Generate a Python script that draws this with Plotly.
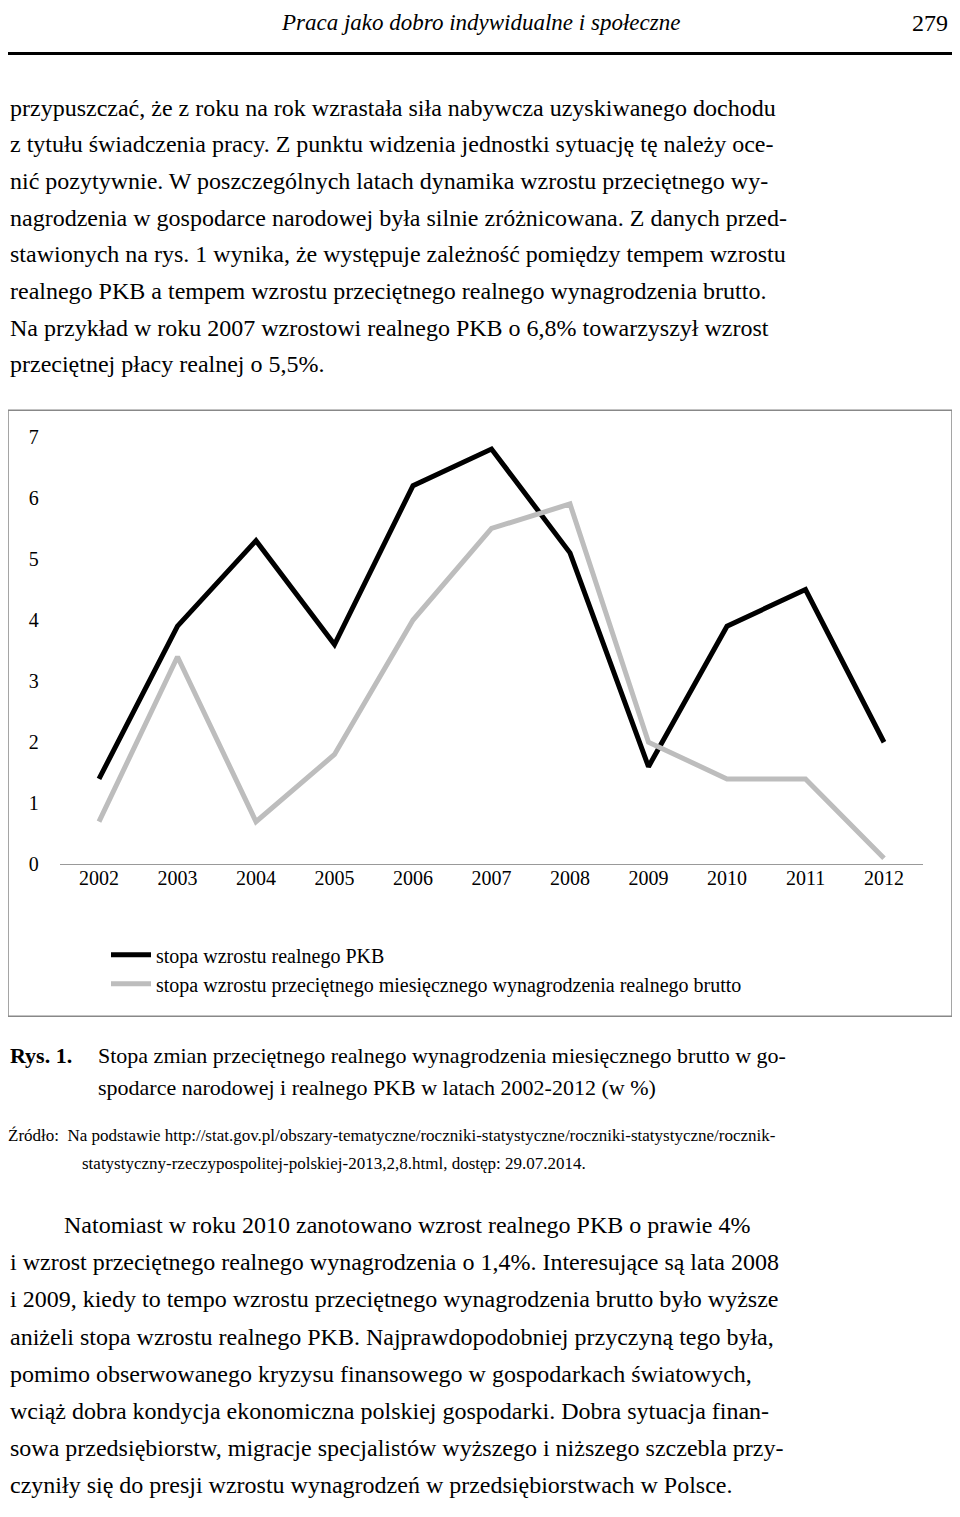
import plotly.graph_objects as go

years = [2002, 2003, 2004, 2005, 2006, 2007, 2008, 2009, 2010, 2011, 2012]
pkb = [1.4, 3.9, 5.3, 3.6, 6.2, 6.8, 5.1, 1.6, 3.9, 4.5, 2.0]
wages = [0.7, 3.4, 0.7, 1.8, 4.0, 5.5, 5.9, 2.0, 1.4, 1.4, 0.1]
name_pkb = "stopa wzrostu realnego PKB"
name_wages = "stopa wzrostu przeciętnego miesięcznego wynagrodzenia realnego brutto"

top_lines = [
    "przypuszczać, że z roku na rok wzrastała siła nabywcza uzyskiwanego dochodu",
    "z tytułu świadczenia pracy. Z punktu widzenia jednostki sytuację tę należy oce-",
    "nić pozytywnie. W poszczególnych latach dynamika wzrostu przeciętnego wy-",
    "nagrodzenia w gospodarce narodowej była silnie zróżnicowana. Z danych przed-",
    "stawionych na rys. 1 wynika, że występuje zależność pomiędzy tempem wzrostu",
    "realnego PKB a tempem wzrostu przeciętnego realnego wynagrodzenia brutto.",
    "Na przykład w roku 2007 wzrostowi realnego PKB o 6,8% towarzyszył wzrost",
    "przeciętnej płacy realnej o 5,5%.",
]
bottom_lines = [
    "Natomiast w roku 2010 zanotowano wzrost realnego PKB o prawie 4%",
    "i wzrost przeciętnego realnego wynagrodzenia o 1,4%. Interesujące są lata 2008",
    "i 2009, kiedy to tempo wzrostu przeciętnego wynagrodzenia brutto było wyższe",
    "aniżeli stopa wzrostu realnego PKB. Najprawdopodobniej przyczyną tego była,",
    "pomimo obserwowanego kryzysu finansowego w gospodarkach światowych,",
    "wciąż dobra kondycja ekonomiczna polskiej gospodarki. Dobra sytuacja finan-",
    "sowa przedsiębiorstw, migracje specjalistów wyższego i niższego szczebla przy-",
    "czyniły się do presji wzrostu wynagrodzeń w przedsiębiorstwach w Polsce.",
]

OFF = 8
W = 960 - 2 * OFF
H = 1517 - 2 * OFF
SERIF = "Liberation Serif"


def px(p):
    return (p - OFF) / W


def py(p):
    return 1 - (p - OFF) / H


fig = go.Figure()
fig.add_trace(go.Scatter(x=years, y=pkb, mode="lines", name=name_pkb,
                         line=dict(color="black", width=5)))
fig.add_trace(go.Scatter(x=years, y=wages, mode="lines", name=name_wages,
                         line=dict(color="#bdbdbd", width=5)))

ann = []
ann.append(dict(x=px(480), y=py(12), text="<i>Praca jako dobro indywidualne i społeczne</i>",
                font=dict(size=23)))
ann.append(dict(x=px(950), y=py(12), text="279", xanchor="right", font=dict(size=24)))
for i, t in enumerate(top_lines):
    ann.append(dict(x=px(8), y=py(98 + i * 37.2), text=t, xanchor="left", font=dict(size=24)))
for i, t in enumerate(bottom_lines):
    ann.append(dict(x=px(62 if i == 0 else 8), y=py(1232 + i * 37.7), text=t,
                    xanchor="left", font=dict(size=24)))
ann.append(dict(x=px(8), y=py(1060), text="<b>Rys. 1.</b>", xanchor="left", font=dict(size=22)))
ann.append(dict(x=px(96), y=py(1060),
                text="Stopa zmian przeciętnego realnego wynagrodzenia miesięcznego brutto w go-",
                xanchor="left", font=dict(size=22)))
ann.append(dict(x=px(96), y=py(1092),
                text="spodarce narodowej i realnego PKB w latach 2002-2012 (w %)",
                xanchor="left", font=dict(size=22)))
ann.append(dict(x=px(6), y=py(1141),
                text="Źródło:  Na podstawie http://stat.gov.pl/obszary-tematyczne/roczniki-statystyczne/roczniki-statystyczne/rocznik-",
                xanchor="left", font=dict(size=17)))
ann.append(dict(x=px(80), y=py(1170),
                text="statystyczny-rzeczypospolitej-polskiej-2013,2,8.html, dostęp: 29.07.2014.",
                xanchor="left", font=dict(size=17)))
for a in ann:
    a.update(xref="paper", yref="paper", showarrow=False, yanchor="middle")
    a["font"].update(family=SERIF, color="black")

fig.update_layout(
    width=W, height=H,
    margin=dict(l=0, r=0, t=0, b=0),
    paper_bgcolor="white", plot_bgcolor="white",
    font=dict(family=SERIF, color="black"),
    annotations=ann,
    shapes=[
        dict(type="line", xref="paper", yref="paper", x0=0, x1=1, y0=py(43), y1=py(43),
             line=dict(color="black", width=3)),
        dict(type="rect", xref="paper", yref="paper", x0=px(8), x1=px(952), y0=py(1020), y1=py(405),
             line=dict(color="#888888", width=1.5)),
    ],
    xaxis=dict(domain=[px(59.75), px(923.25)], range=[2001.5, 2012.5], tickvals=years,
               ticks="", showgrid=False, zeroline=False, showline=False,
               tickfont=dict(size=20), anchor="y"),
    yaxis=dict(domain=[py(866), py(432)], range=[0, 7], dtick=1, showgrid=False,
               zeroline=True, zerolinecolor="#999999", zerolinewidth=1,
               showline=False, ticks="", tickfont=dict(size=20), ticklabelstandoff=20),
    legend=dict(x=px(106), y=py(938), xanchor="left", yanchor="top",
                font=dict(size=20, family=SERIF), itemwidth=40, tracegroupgap=4,
                bgcolor="rgba(0,0,0,0)"),
)

fig.write_html("out.html")
